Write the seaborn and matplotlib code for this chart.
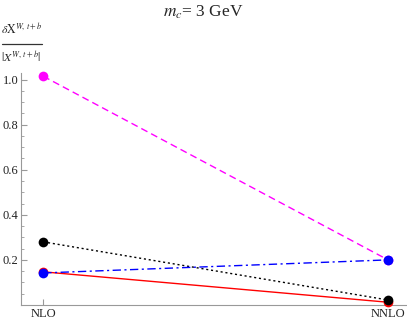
import numpy as np
import pandas as pd
import seaborn as sns
import matplotlib.pyplot as plt
from matplotlib.ticker import MultipleLocator
from matplotlib.lines import Line2D

# Perturbative orders on the x axis
orders = ['NLO', 'NNLO']

# Relative uncertainties
red_vals = [0.147, 0.012]
magenta_vals = [1.015, 0.20]
black_vals = [0.28, 0.022]
blue_vals = [0.142, 0.20]

sns.set_style('white')
plt.rcParams['font.family'] = ['Liberation Serif', 'DejaVu Serif']
plt.rcParams['mathtext.fontset'] = 'stix'

fig = plt.figure(figsize=(4.07, 3.21), dpi=100)
ax = fig.add_axes([0.052, 0.05, 0.948, 0.723])

series = [
    (red_vals, '#ff0000', '-'),
    (magenta_vals, '#ff00ff', (0, (5, 3))),
    (black_vals, '#000000', (0, (1.5, 2))),
    (blue_vals, '#0000ff', (0, (6, 2.5, 1.5, 2.5))),
]
for vals, col, ls in series:
    df = pd.DataFrame({'order': orders, 'value': vals})
    sns.lineplot(data=df, x='order', y='value', ax=ax, color=col, linestyle=ls,
                 linewidth=1.0, marker='o', markersize=7, markeredgewidth=0,
                 clip_on=False, zorder=3)

ax.set_xlim(-0.064, 1.055)
ax.set_ylim(0, 1.03)
ax.set_xticks([0, 1])
ax.set_xticklabels(orders)
ax.yaxis.set_minor_locator(MultipleLocator(0.05))
ax.set_yticks([0.2, 0.4, 0.6, 0.8, 1.0])
ax.set_yticklabels(['0.2', '0.4', '0.6', '0.8', '1.0'])
ax.tick_params(axis='both', which='major', direction='in', length=4, width=0.8,
               color='#999999', labelsize=9, pad=2, left=True, bottom=True,
               labelcolor='#222222')
ax.tick_params(axis='y', which='minor', direction='in', length=2, width=0.6,
               color='#999999', left=True)
ax.set_xlabel('')
ax.set_ylabel('')
for s in ['top', 'right']:
    ax.spines[s].set_visible(False)
for s in ['left', 'bottom']:
    ax.spines[s].set_color('#999999')
    ax.spines[s].set_linewidth(0.8)

fig.text(0.5, 0.962, r'$m_c$= 3 GeV', ha='center', va='center', fontsize=12.5)

# y label drawn as a stacked fraction
fig.text(21.5 / 407, 1 - 30 / 321, r'$\delta\mathrm{X}^{W,\,t+b}$', ha='center',
         va='center', fontsize=8.5)
fig.add_artist(Line2D([2 / 407, 42 / 407], [1 - 43.5 / 321, 1 - 43.5 / 321],
                      color='#333333', linewidth=0.9))
fig.text(21.5 / 407, 1 - 58 / 321, r'$|X^{W,\,t+b}|$', ha='center',
         va='center', fontsize=8.5)

fig.savefig('out.png', dpi=100)
